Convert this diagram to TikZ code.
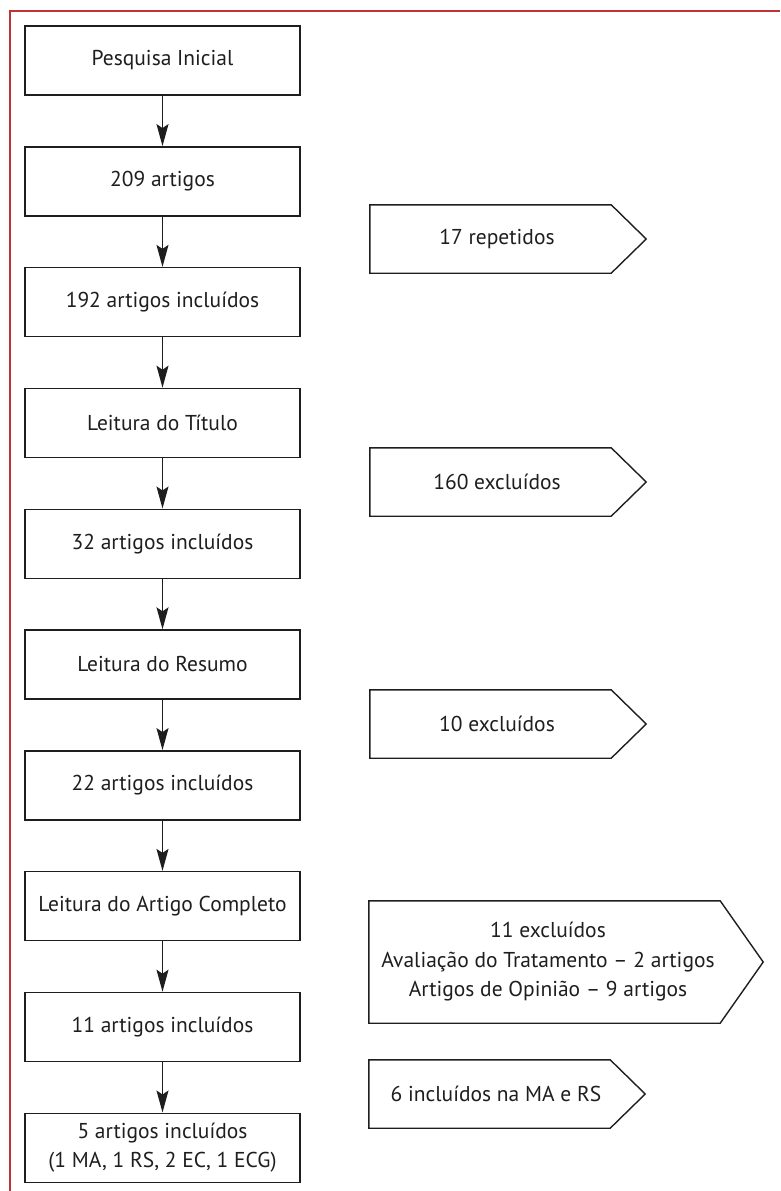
\documentclass[tikz,border=0pt]{standalone}
\usepackage{fontspec}
\setmainfont{PT Sans}
\usetikzlibrary{arrows.meta,calc}
\definecolor{framered}{RGB}{190,52,52}
\definecolor{ink}{RGB}{30,30,30}
\begin{document}
\begin{tikzpicture}[x=1pt,y=-1pt,
  txt/.style={font=\fontsize{21.5}{29.5}\selectfont, text=ink},
  stepbox/.style={txt, draw=ink, line width=1.4pt, minimum width=275pt, minimum height=69pt, inner sep=0pt, align=center},
  pentnode/.style={txt, minimum width=241pt, minimum height=68pt, inner sep=0pt, align=center},
  pentline/.style={draw=ink, line width=1.4pt, line join=miter},
  flow/.style={draw=ink, line width=1.3pt, -{Stealth[length=22pt,width=12pt,inset=4pt]}},
  frame/.style={draw=framered, line width=1.6pt}
]
\useasboundingbox (0,0) rectangle (780,1191);
\draw[frame] (10,1191) -- (10,11) -- (780,11);

\node[stepbox] (b1)  at (162.5,60.5)   {Pesquisa Inicial};
\node[stepbox] (b2)  at (162.5,181.3)  {209 artigos};
\node[stepbox] (b3)  at (162.5,302.1)  {192 artigos incluídos};
\node[stepbox] (b4)  at (162.5,422.9)  {Leitura do Título};
\node[stepbox] (b5)  at (162.5,543.7)  {32 artigos incluídos};
\node[stepbox] (b6)  at (162.5,664.5)  {Leitura do Resumo};
\node[stepbox] (b7)  at (162.5,785.3)  {22 artigos incluídos};
\node[stepbox] (b8)  at (162.5,906.1)  {Leitura do Artigo Completo};
\node[stepbox] (b9)  at (162.5,1026.9) {11 artigos incluídos};
\node[stepbox] (b10) at (162.5,1147.7) {5 artigos incluídos\\(1 MA, 1 RS, 2 EC, 1 ECG)};

\foreach \a/\b in {b1/b2,b2/b3,b3/b4,b4/b5,b5/b6,b6/b7,b7/b8,b8/b9,b9/b10}
  \draw[flow] (\a) -- (\b);

% text nodes sit slightly right of the centre of the box part
\node[pentnode] (p1) at (497,239) {17 repetidos};
\node[pentnode] (p2) at (497,482) {160 excluídos};
\node[pentnode] (p3) at (497,724) {10 excluídos};
\node[pentnode, minimum width=351pt, minimum height=122pt] (p4) at (548,962)
  {11 excluídos\\Avaliação do Tratamento – 2 artigos\\Artigos de Opinião – 9 artigos};
\node[pentnode] (p5) at (496,1094) {6 incluídos na MA e RS};

\foreach \p/\d/\s in {p1/35/6.5,p2/35/6.5,p3/35/6.5,p4/43/3.5,p5/35/6.5}
  \draw[pentline] ($(\p.north west)+(-\s,0)$) -- ($(\p.north east)+(-\s,0)$)
     -- ($(\p.east)+(\d-\s,0)$) -- ($(\p.south east)+(-\s,0)$)
     -- ($(\p.south west)+(-\s,0)$) -- cycle;
\end{tikzpicture}
\end{document}
